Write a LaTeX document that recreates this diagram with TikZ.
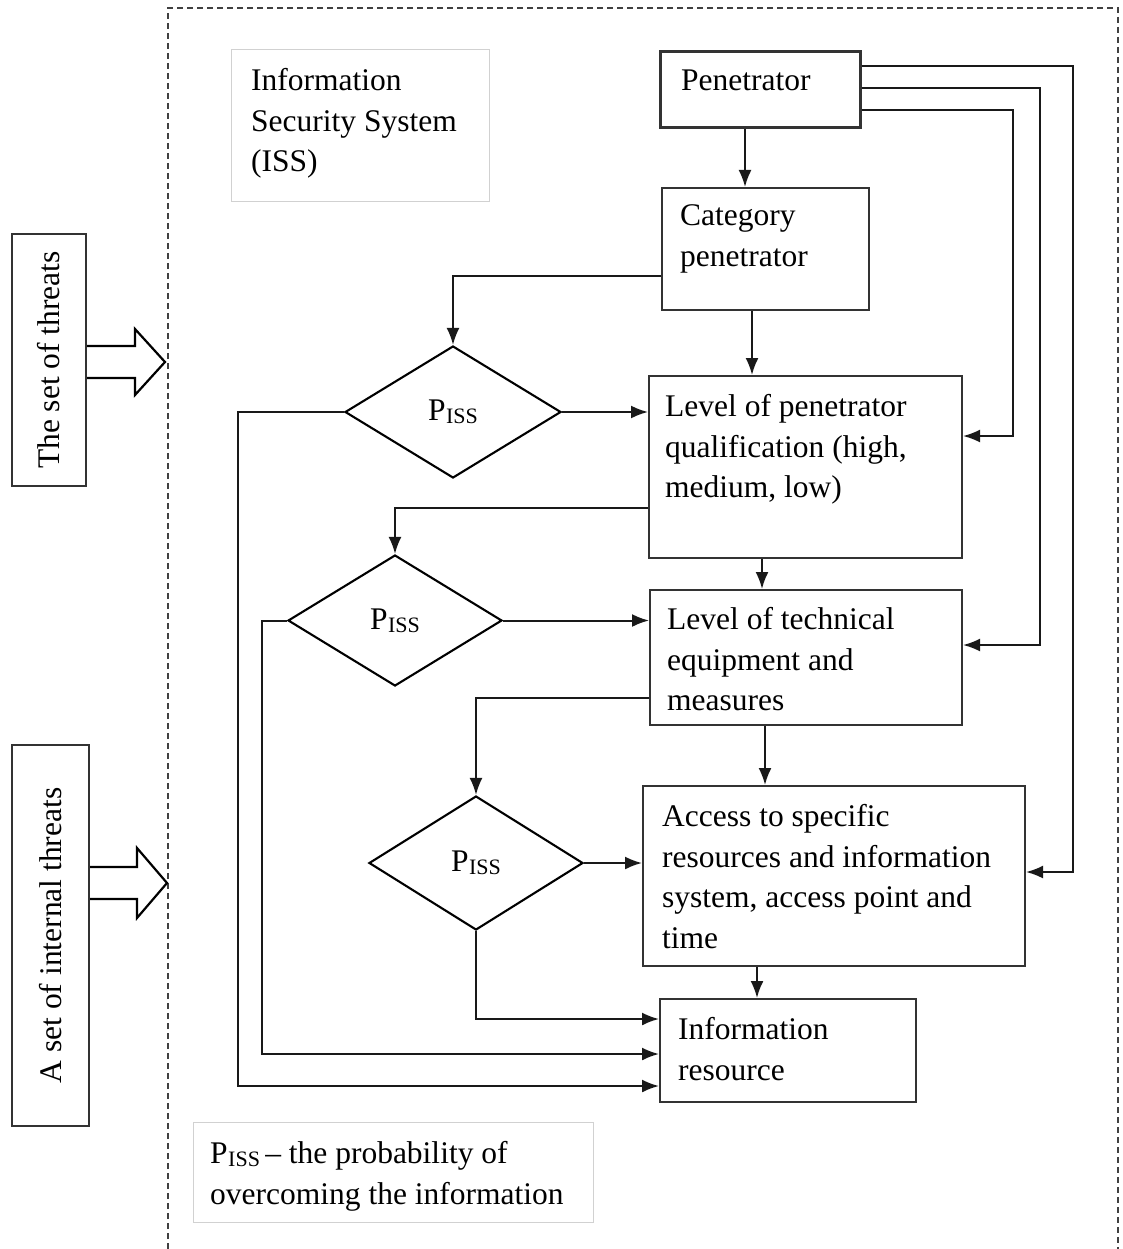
\documentclass[tikz,border=0pt]{standalone}
\usepackage{fontspec}
\setmainfont{Liberation Serif}
\usetikzlibrary{arrows.meta,shapes.geometric}

\newcommand\pissub{P\kern0.5pt\raisebox{-3pt}{\fontsize{22}{22}\selectfont ISS}}

\begin{document}
\begin{tikzpicture}[x=1pt,y=-1pt,
  box/.style={draw=black!80,line width=2pt,inner sep=0pt,rectangle},
  thinbox/.style={draw=black!18,line width=1pt,inner sep=0pt,rectangle},
  txt/.style={inner sep=0pt,anchor=north west,align=left,
    font=\fontsize{31.5}{40.5}\selectfont},
  rot/.style={inner sep=0pt,rotate=90,font=\fontsize{31.5}{40}\selectfont},
  decision/.style={diamond,draw=black,line width=2.1pt,inner sep=0pt,
    font=\fontsize{31.5}{40}\selectfont},
  conn/.style={draw=black!90,line width=2pt},
  arr/.style={conn,-{Latex[length=17pt,width=13pt]}},
  hollow/.style={draw=black,line width=2.2pt,fill=white,line join=miter},
  frame/.style={draw=black!75,line width=1.4pt,dash pattern=on 6pt off 4pt}]

\useasboundingbox (0,0) rectangle (1123,1249);

% dashed system boundary
\draw[frame] (168,1249) -- (168,8) -- (1118,8) -- (1118,1249);

% threat sources on the left
\node[box,minimum width=74pt,minimum height=252pt] (t1) at (49,360) {};
\node[rot] (t1t) at (t1.center) {The set of threats};
\node[box,minimum width=77pt,minimum height=381pt] (t2) at (50.5,935.5) {};
\node[rot] (t2t) at (t2.center) {A set of internal threats};

\draw[hollow] (t1.east |- 0,346) -- (135,346) -- (135,329) -- (165,362)
  -- (135,395) -- (135,378) -- (t1.east |- 0,378);
\draw[hollow] (t2.east |- 0,867) -- (137,867) -- (137,848) -- (167,883)
  -- (137,918) -- (137,899) -- (t2.east |- 0,899);

% title and legend
\node[thinbox,minimum width=258pt,minimum height=152pt] (iss) at (360,126) {};
\node[txt] (isst) at (251,62) {\strut Information\\Security System\\(ISS)};
\node[thinbox,minimum width=400pt,minimum height=100pt] (note) at (393,1172) {};
\node[txt] (notet) at (210,1135) {\strut \pissub\,– the probability of\\overcoming the information};

% process boxes
\node[box,line width=3pt,minimum width=200pt,minimum height=76pt] (pen) at (760,90) {};
\node[txt] (pent) at (681,62) {\strut Penetrator};
\node[box,minimum width=207pt,minimum height=122pt] (cat) at (765.5,249) {};
\node[txt] (catt) at (680,197) {\strut Category\\penetrator};
\node[box,minimum width=313pt,minimum height=182pt] (lp) at (805.5,467) {};
\node[txt] (lpt) at (665,388) {\strut Level of penetrator\\qualification (high,\\medium, low)};
\node[box,minimum width=312pt,minimum height=135pt] (lt) at (806,657.5) {};
\node[txt] (ltt) at (667,601) {\strut Level of technical\\equipment and\\measures};
\node[box,minimum width=382pt,minimum height=180pt] (acc) at (834,876) {};
\node[txt] (acct) at (662,798) {\strut Access to specific\\resources and information\\system, access point and\\time};
\node[box,minimum width=256pt,minimum height=103pt] (ir) at (788,1050.5) {};
\node[txt] (irt) at (678,1011) {\strut Information\\resource};

% decisions
\node[decision,minimum width=216pt,minimum height=132pt] (d1) at (453,412) {\pissub};
\node[decision,minimum width=214pt,minimum height=131pt] (d2) at (395,620.5) {\pissub};
\node[decision,minimum width=214pt,minimum height=134pt] (d3) at (476,863) {\pissub};

% main chain
\draw[arr] (745,0 |- pen.south) -- (745,0 |- cat.north);
\draw[arr] (752,0 |- cat.south) -- (752,0 |- lp.north);
\draw[arr] (762,0 |- lp.south) -- (762,0 |- lt.north);
\draw[arr] (765,0 |- lt.south) -- (765,0 |- acc.north);
\draw[arr] (757,0 |- acc.south) -- (757,0 |- ir.north);

% branches into the decisions
\draw[arr] (cat.west |- 0,276) -| (d1.north);
\draw[arr] (lp.west |- 0,508) -| (d2.north);
\draw[arr] (lt.west |- 0,698) -| (d3.north);

% decisions to the next level
\draw[arr] (d1.east) -- (d1.east -| lp.west);
\draw[arr] (d2.east) -- (d2.east -| lt.west);
\draw[arr] (d3.east) -- (d3.east -| acc.west);

% decisions straight to the information resource
\coordinate (ka) at (238,1086);
\coordinate (kb) at (262,1054);
\coordinate (kc) at (476,1019);
\draw[arr] (d1.west) -| (ka) -- (ka -| ir.west);
\draw[arr] (d2.west) -| (kb) -- (kb -| ir.west);
\draw[arr] (d3.south) -- (kc) -- (kc -| ir.west);

% penetrator bypass lines on the right
\coordinate (ra) at (1073,66);
\coordinate (rb) at (1040,88);
\coordinate (rc) at (1013,110);
\draw[arr] (pen.east |- ra) -- (ra) -- (1073,872) -- (acc.east |- 0,872);
\draw[arr] (pen.east |- rb) -- (rb) -- (1040,645) -- (lt.east |- 0,645);
\draw[arr] (pen.east |- rc) -- (rc) -- (1013,436) -- (lp.east |- 0,436);

\end{tikzpicture}
\end{document}
